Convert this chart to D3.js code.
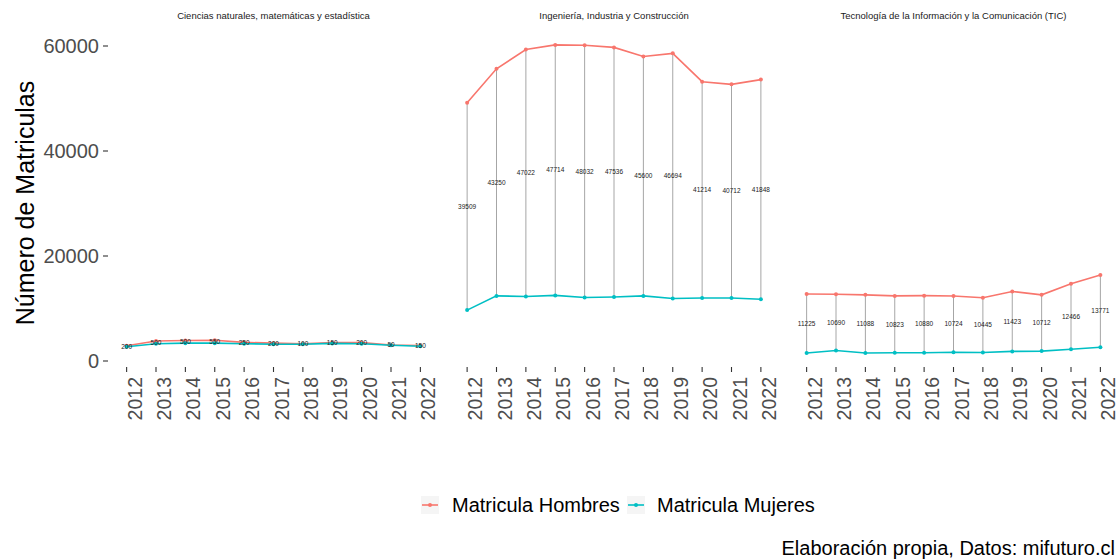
<!DOCTYPE html>
<html><head><meta charset="utf-8">
<script src="https://cdn.jsdelivr.net/npm/d3@7"></script>
<style>body{margin:0;background:#fff}svg{display:block;font-family:"Liberation Sans",Arial,sans-serif}</style>
</head><body>
<script>
const years = [2012,2013,2014,2015,2016,2017,2018,2019,2020,2021,2022];
const areas = ["Ciencias naturales, matemáticas y estadística","Ingeniería, Industria y Construcción","Tecnología de la Información y la Comunicación (TIC)"];
const hombresCiencias = [2900,3800,3900,3950,3550,3400,3300,3500,3500,3050,2950];
const mujeresCiencias = [2700,3300,3400,3400,3300,3200,3200,3350,3300,3000,2800];
const hombresIngenieria = [49200,55650,59322,60214,60132,59736,58000,58600,53200,52700,53600];
const mujeresIngenieria = [9691,12400,12300,12500,12100,12200,12400,11906,11986,11988,11752];
const hombresTIC = [12760,12700,12600,12400,12450,12380,12050,13250,12600,14700,16400];
const mujeresTIC = [1535,2010,1512,1577,1570,1656,1605,1827,1888,2234,2629];
const yTicks = [0,20000,40000,60000];
const seriesNames = ["Matricula Hombres","Matricula Mujeres"];
const colors = ["#F8766D","#00BFC4"];

const H = [hombresCiencias,hombresIngenieria,hombresTIC];
const M = [mujeresCiencias,mujeresIngenieria,mujeresTIC];

const W = 1120, Ht = 559;
const svg = d3.select("body").append("svg").attr("width",W).attr("height",Ht);
const y = d3.scaleLinear().domain([0,60000]).range([361,46]);
const panelLeft = [109,449.5,789], panelW = 329;

// y axis
const gy = svg.append("g");
yTicks.forEach(t=>{
  gy.append("line").attr("x1",103).attr("x2",108).attr("y1",y(t)).attr("y2",y(t)).attr("stroke","#333").attr("stroke-width",1.1);
  gy.append("text").attr("x",99).attr("y",y(t)).attr("dy","0.36em").attr("text-anchor","end")
    .attr("font-size",20).attr("fill","#4D4D4D").text(t);
});
svg.append("text").attr("transform","translate(34,203) rotate(-90)").attr("text-anchor","middle")
  .attr("font-size",25).attr("fill","#000").text("Número de Matriculas");

areas.forEach((a,i)=>{
  const x = d3.scalePoint().domain(years).range([panelLeft[i],panelLeft[i]+panelW]).padding(0.6);
  const g = svg.append("g");
  g.append("text").attr("x",panelLeft[i]+panelW/2).attr("y",16).attr("dy","0.35em").attr("text-anchor","middle")
    .attr("font-size",9.5).attr("fill","#1A1A1A").text(a);
  // x axis
  years.forEach(yr=>{
    g.append("line").attr("x1",x(yr)).attr("x2",x(yr)).attr("y1",367).attr("y2",372).attr("stroke","#333").attr("stroke-width",1.1);
    g.append("text").attr("transform",`translate(${x(yr)+15},377) rotate(-90)`).attr("text-anchor","end")
      .attr("font-size",19.5).attr("fill","#4D4D4D").text(yr);
  });
  const data = years.map((yr,j)=>({yr,h:H[i][j],m:M[i][j]}));
  // segments
  g.selectAll(".seg").data(data).join("line").attr("x1",d=>x(d.yr)).attr("x2",d=>x(d.yr))
    .attr("y1",d=>y(d.m)).attr("y2",d=>y(d.h)).attr("stroke","#A6A6A6").attr("stroke-width",1);
  [H[i],M[i]].forEach((vals,k)=>{
    const line = d3.line().x((v,j)=>x(years[j])).y(v=>y(v));
    g.append("path").attr("d",line(vals)).attr("fill","none").attr("stroke",colors[k]).attr("stroke-width",1.6);
    g.selectAll(null).data(vals).join("circle").attr("cx",(v,j)=>x(years[j])).attr("cy",v=>y(v)).attr("r",2).attr("fill",colors[k]);
  });
  g.selectAll(".lab").data(data).join("text").attr("x",d=>x(d.yr)).attr("y",d=>y((d.h+d.m)/2)).attr("dy","0.35em")
    .attr("text-anchor","middle").attr("font-size",6.5).attr("fill","#222").text(d=>d.h-d.m);
});

// legend
const lg = svg.append("g");
const keyX = [430,636], textX = [452,657];
seriesNames.forEach((s,k)=>{
  lg.append("rect").attr("x",keyX[k]-9).attr("y",496).attr("width",18).attr("height",18).attr("fill","#F5F5F5");
  lg.append("line").attr("x1",keyX[k]-8).attr("x2",keyX[k]+8).attr("y1",505).attr("y2",505).attr("stroke",colors[k]).attr("stroke-width",1.6);
  lg.append("circle").attr("cx",keyX[k]).attr("cy",505).attr("r",2).attr("fill",colors[k]);
  lg.append("text").attr("x",textX[k]).attr("y",505).attr("dy","0.36em").attr("font-size",20).attr("fill","#000").text(s);
});
svg.append("text").attr("x",1115).attr("y",548).attr("dy","0.36em").attr("text-anchor","end").attr("font-size",20).attr("fill","#000")
  .text("Elaboración propia, Datos: mifuturo.cl");
</script>
</body></html>
